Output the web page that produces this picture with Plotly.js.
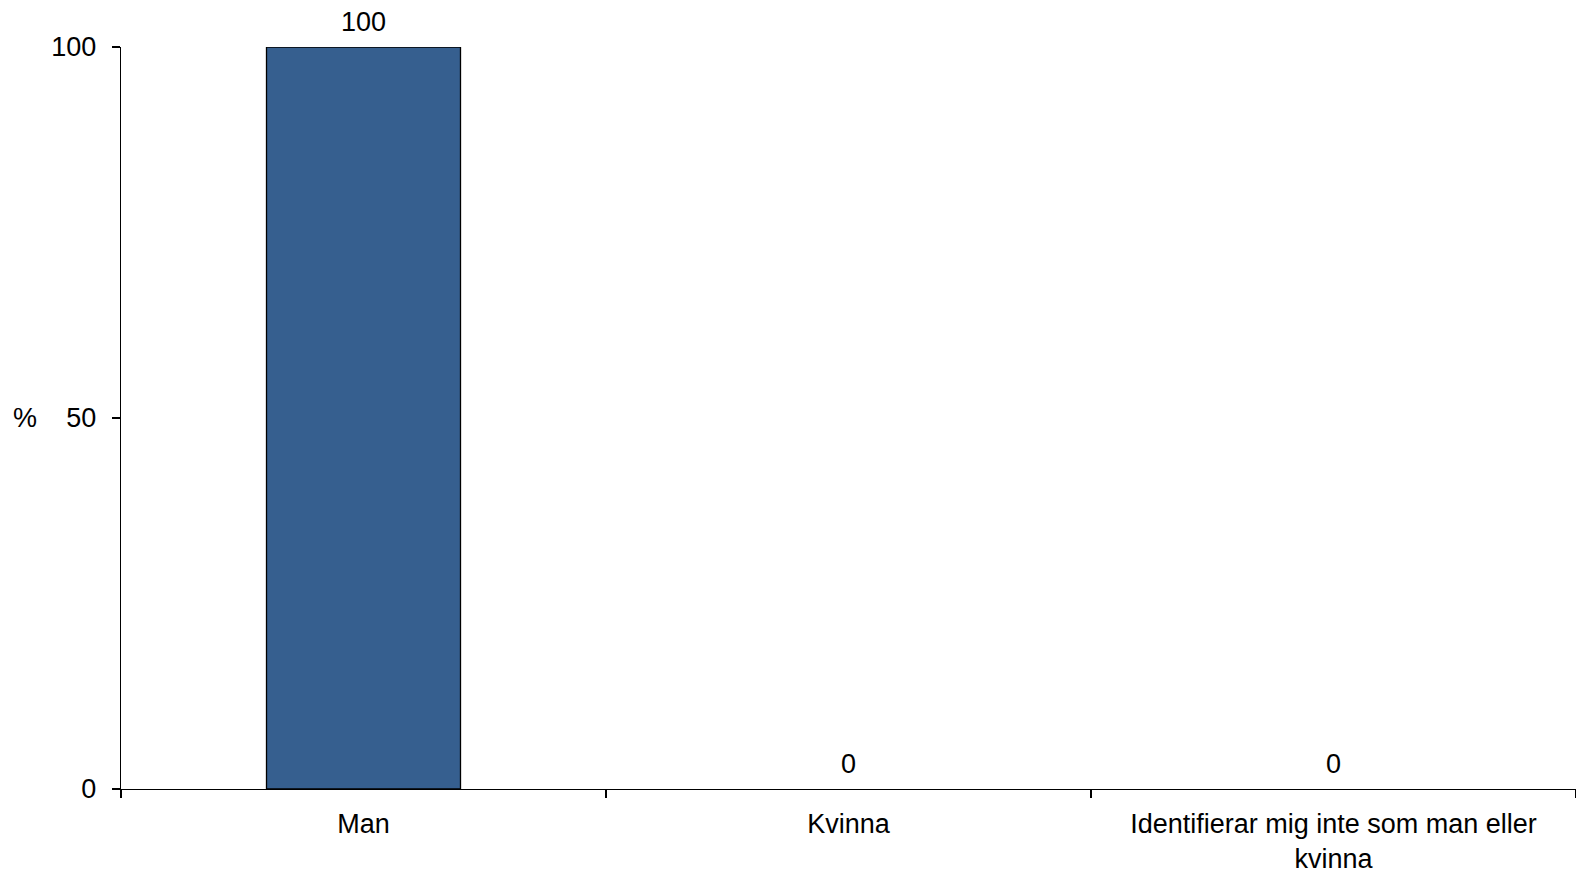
<!DOCTYPE html>
<html>
<head>
<meta charset="utf-8">
<script src="https://cdn.plot.ly/plotly-3.0.1.min.js"></script>
<style>html,body{margin:0;padding:0;background:#fff;}#chart{width:1576px;height:872px;}</style>
</head>
<body>
<div id="chart"></div>
<script>
const categories = ["Man", "Kvinna", "Identifierar mig inte som man eller<br>kvinna"];
const values = [100, 0, 0];
const valueLabels = ["100", "0", "0"];
const yTickVals = [0, 50, 100];
const yTickText = ["0", "50", "100"];
const yTitle = "%";

const FONT = "Liberation Sans, Arial, sans-serif";
const FS = 27;

const trace = {
  type: "bar",
  x: categories,
  y: values,
  textposition: "none",
  cliponaxis: false,
  marker: {color: "#365F8F", line: {color: "#000", width: values.map(v => v > 0 ? 1.3 : 0)}},
  width: 0.4,
  hoverinfo: "x+y"
};

const labelAnnotations = categories.map((c, i) => ({
  text: valueLabels[i],
  x: c, y: values[i],
  xref: "x", yref: "y",
  xanchor: "center", yanchor: "bottom",
  yshift: 8,
  showarrow: false,
  font: {family: FONT, size: FS, color: "#000"}
}));

const layout = {
  width: 1576,
  height: 872,
  margin: {l: 121, r: 0, t: 47, b: 83, pad: 0},
  paper_bgcolor: "#fff",
  plot_bgcolor: "#fff",
  font: {family: FONT, size: FS, color: "#000"},
  showlegend: false,
  xaxis: {
    type: "category",
    range: [-0.5, 2.5],
    showline: true,
    linecolor: "#000",
    linewidth: 1.3,
    ticks: "outside",
    tickson: "boundaries",
    ticklen: 8,
    tickwidth: 1.3,
    tickcolor: "#000",
    showgrid: false,
    zeroline: false,
    tickfont: {family: FONT, size: FS, color: "#000"},
    ticklabelstandoff: 10
  },
  yaxis: {
    range: [0, 100],
    tickvals: yTickVals,
    ticktext: yTickText,
    showline: true,
    linecolor: "#000",
    linewidth: 1.3,
    ticks: "outside",
    ticklen: 8,
    tickwidth: 1.3,
    tickcolor: "#000",
    showgrid: false,
    zeroline: false,
    tickfont: {family: FONT, size: FS, color: "#000"},
    ticklabelstandoff: 10
  },
  annotations: labelAnnotations.concat([{
    text: yTitle,
    xref: "paper", yref: "paper",
    x: 0, y: 0.5,
    xanchor: "center", yanchor: "middle",
    xshift: -96,
    showarrow: false,
    font: {family: FONT, size: FS, color: "#000"}
  }])
};

Plotly.newPlot("chart", [trace], layout, {displayModeBar: false, staticPlot: true});
</script>
</body>
</html>
